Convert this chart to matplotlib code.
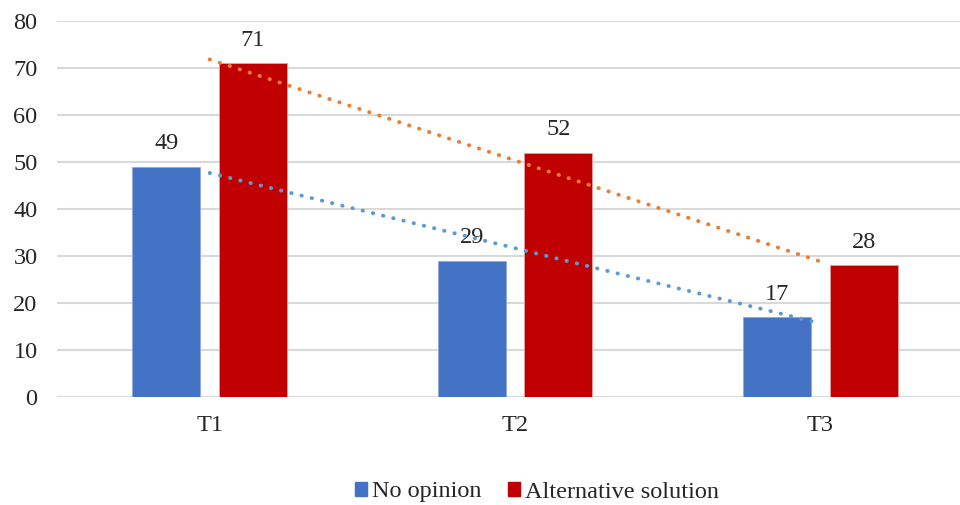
import numpy as np
import matplotlib.pyplot as plt
from matplotlib.patches import Patch

categories = ["T1", "T2", "T3"]
no_opinion = [49, 29, 17]
alternative = [71, 52, 28]
yticks = [0, 10, 20, 30, 40, 50, 60, 70, 80]

plt.rcParams['font.family'] = ['Liberation Serif', 'DejaVu Serif']

fig = plt.figure(figsize=(9.6, 5.05), dpi=100)
# plot area runs a little past the right edge, as in the reference
ax = fig.add_axes([57 / 960, 1 - 397 / 505, (973 - 57) / 960, (397 - 21) / 505])

x = np.arange(len(categories))
w = 0.222
off = 0.142
blue = "#4472C4"
red = "#C00000"
fs = 17.5

b1 = ax.bar(x - off, no_opinion, w, color=blue, edgecolor="#8FAADC", linewidth=0.6, zorder=2)
b2 = ax.bar(x + off, alternative, w, color=red, edgecolor="#E8A0A0", linewidth=0.6, zorder=2)

for bars, vals in ((b1, no_opinion), (b2, alternative)):
    for r, v in zip(bars, vals):
        ax.annotate(str(v), (r.get_x() + r.get_width() / 2, v), xytext=(0, 9),
                    textcoords="offset points", ha="center", va="bottom",
                    fontsize=fs, color="#262626")

# linear trendlines, Excel style
for vals, col in ((no_opinion, "#5B9BD5"), (alternative, "#ED7D31")):
    k, c = np.polyfit(x, vals, 1)
    ax.plot(x, k * x + c, color=col, linewidth=2.8,
            linestyle=(0, (0.1, 2.6)), dash_capstyle="round", zorder=3)

ax.set_xlim(-0.5, 2.5)
ax.set_ylim(0, 80)
ax.set_yticks(yticks)
ax.set_xticks(x)
ax.set_xticklabels(categories)
ax.yaxis.grid(True, color="#D9D9D9", linewidth=1.5)
ax.set_axisbelow(True)
for s in ax.spines.values():
    s.set_visible(False)
ax.tick_params(length=0, labelsize=fs, labelcolor="#262626")
ax.tick_params(axis="y", pad=14)
ax.tick_params(axis="x", pad=13)

handles = [Patch(color=blue), Patch(color=red)]
fig.legend(handles, ["No opinion", "Alternative solution"], loc="center",
           bbox_to_anchor=(537 / 960, 1 - 492 / 505), ncol=2, frameon=False,
           fontsize=fs, handlelength=0.5, handleheight=0.5, handletextpad=0.2,
           columnspacing=1.1, labelcolor="#262626")

fig.savefig("out.png", dpi=100)
